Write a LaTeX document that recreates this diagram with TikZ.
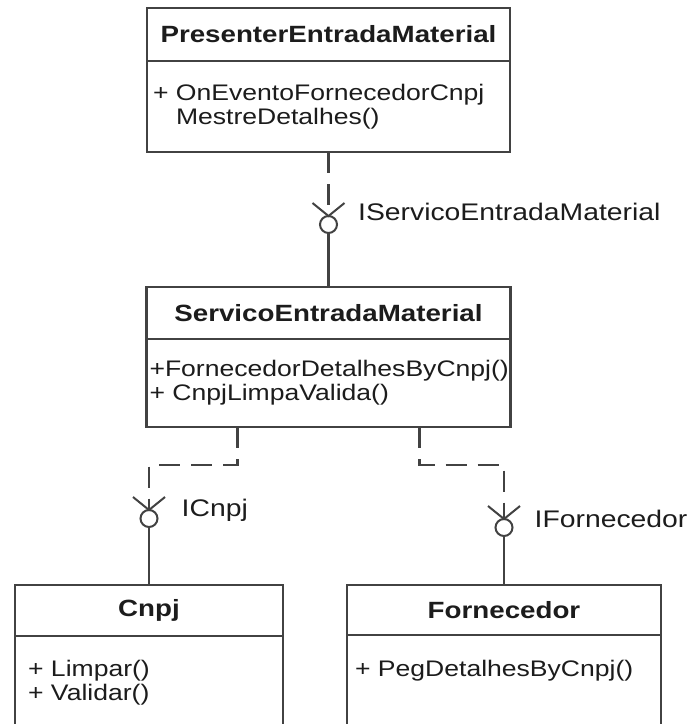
\documentclass[tikz,border=0pt]{standalone}
\usepackage{fontspec}
\setmainfont{Liberation Sans}[FakeStretch=1.18]
\usetikzlibrary{positioning,calc}
\definecolor{UMLLine}{HTML}{424242}
\definecolor{UMLText}{HTML}{1C1C1C}

\begin{document}
\begin{tikzpicture}[x=1pt,y=-1pt,
  font=\fontsize{22.5}{24}\selectfont,
  classhead/.style={draw=UMLLine,line width=2.5pt,fill=white,text=UMLText,outer sep=0pt,inner sep=0pt,font=\fontsize{23.5}{24}\selectfont\bfseries},
  classbody/.style={draw=UMLLine,line width=2.5pt,fill=white,text=UMLText,outer sep=0pt,inner ysep=0pt,align=left,text width=#1},
  iface/.style={circle,draw=UMLLine,line width=2pt,fill=white,minimum size=17pt,inner sep=0pt,outer sep=0pt},
  ilabel/.style={text=UMLText,inner sep=0pt,font=\fontsize{24}{24}\selectfont},
  arm/.style={UMLLine,line width=2pt},
  lnk/.style={UMLLine,line width=2.5pt},
  dep/.style={UMLLine,line width=2.5pt,dash pattern=on 21pt off 11pt},
]
\useasboundingbox (0,0) rectangle (691,724);
\clip (0,0) rectangle (691,724);

% classes
\node[classhead,minimum width=363pt,minimum height=53pt] (tophead) at (328.5,34.5) {PresenterEntradaMaterial};
\node[classbody=351pt,inner xsep=6pt,minimum width=363pt,minimum height=91pt,below=0pt of tophead] (topbody)
  {+ OnEventoFornecedorCnpj\\\hphantom{+ }MestreDetalhes()};
\node[classhead,minimum width=364pt,minimum height=52pt,below=135pt of topbody] (midhead) {ServicoEntradaMaterial};
\node[classbody=358pt,inner xsep=3pt,minimum width=364pt,minimum height=88pt,below=0pt of midhead] (midbody)
  {+FornecedorDetalhesByCnpj()\\+ CnpjLimpaValida()};
\node[classhead,minimum width=268pt,minimum height=51pt] (cnpjhead) at (149,610.5) {Cnpj};
\node[classbody=242pt,inner xsep=13pt,minimum width=268pt,minimum height=93pt,below=0pt of cnpjhead] (cnpjbody)
  {+ Limpar()\\+ Validar()};
\node[classhead,minimum width=314pt,minimum height=50pt] (fornhead) at (504,610) {Fornecedor};
\node[classbody=298pt,inner xsep=8pt,minimum width=314pt,minimum height=98pt,below=0pt of fornhead] (fornbody)
  {+ PegDetalhesByCnpj()\\\strut};

% interfaces
\node[iface,below=64pt of topbody] (isem) {};
\node[iface,above=58pt of cnpjhead] (icnpj) {};
\node[iface,above=49pt of fornhead] (ifor) {};
\node[ilabel,right=21pt of isem,yshift=13pt] (lsem) {IServicoEntradaMaterial};
\node[ilabel,right=24pt of icnpj,yshift=8pt] (lcnpj) {ICnpj};
\node[ilabel,right=22pt of ifor,yshift=9pt] (lfor) {IFornecedor};
\foreach \i in {isem,icnpj,ifor}
  \draw[arm] ($(\i.north)+(-16,-13)$) -- (\i.north) -- ($(\i.north)+(16,-13)$);

% connectors
\coordinate (lsrc) at ($(midbody.south west)!0.25!(midbody.south east)$);
\coordinate (rsrc) at ($(midbody.south west)!0.75!(midbody.south east)$);
\coordinate (ljog) at ($(lsrc)+(0,38)$);
\coordinate (rjog) at ($(rsrc)+(0,38)$);
\draw[dep] (topbody.south) -- (isem.north);
\draw[lnk] (isem.south) -- (midhead.north);
\draw[dep] (lsrc) -- (ljog) -| (icnpj.north);
\draw[dep] (rsrc) -- (rjog) -| (ifor.north);
\draw[lnk] (icnpj.south) -- (cnpjhead.north);
\draw[lnk] (ifor.south) -- (fornhead.north);
\end{tikzpicture}
\end{document}
